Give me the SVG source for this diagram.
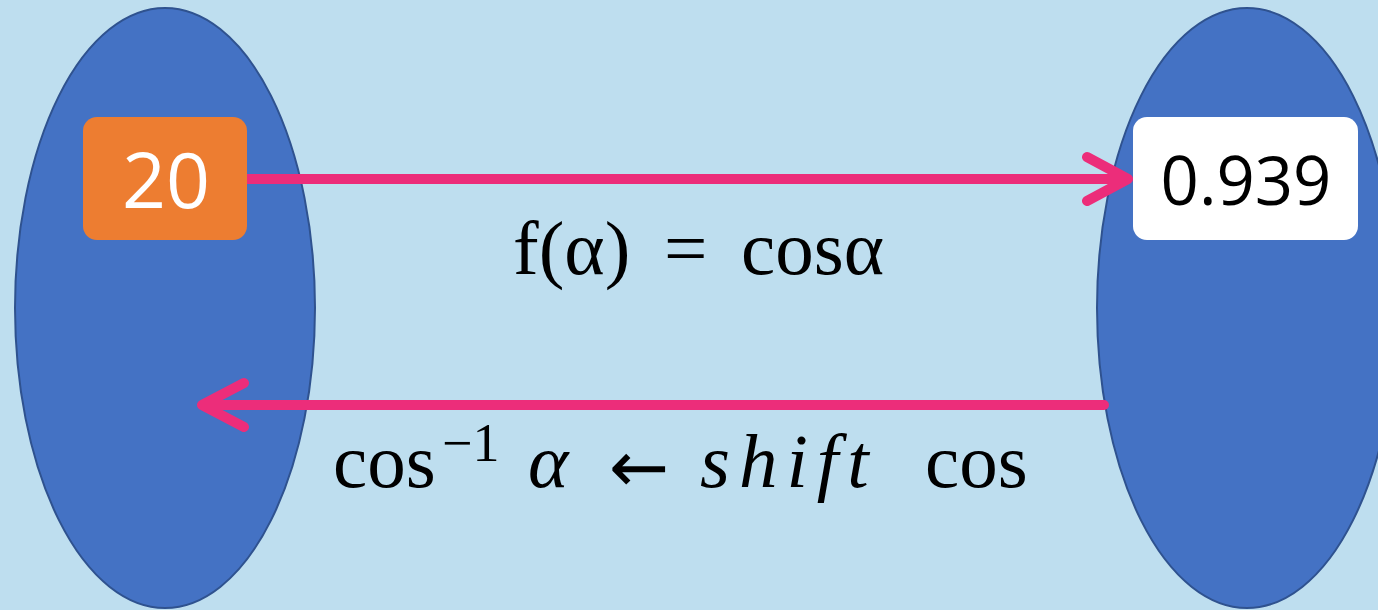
<svg xmlns="http://www.w3.org/2000/svg" width="1378" height="610" viewBox="0 0 1378 610">
<style>
.ell{fill:#4472C4;stroke:#2F528F;stroke-width:2}
.conn{fill:none;stroke:#EC2D7A;stroke-width:10;stroke-linecap:round;stroke-linejoin:round}
.lbl{font-family:"Open Sans","Noto Sans","Liberation Sans",sans-serif;text-anchor:middle}
.math{font-family:"Liberation Serif","DejaVu Serif",serif;font-size:77px;fill:#000}
.it{font-style:italic}
</style>
<rect x="0" y="0" width="1378" height="610" fill="#BEDEEF"/>
<g id="left-set"><ellipse class="ell" cx="165" cy="308" rx="150" ry="300"/></g>
<g id="right-set"><ellipse class="ell" cx="1247" cy="308" rx="150" ry="300"/></g>
<g id="connectors">
<path class="conn" d="M247 179 H1128 M1087 157 L1128 179 L1087 201"/>
<path class="conn" d="M1104 405 H202 M244 383 L202 405 L244 427"/>
</g>
<g id="node-20">
<rect x="83" y="117" width="164" height="123" rx="14" fill="#ED7D31"/>
<text class="lbl" x="166" y="208" font-size="77" fill="#FFFFFF">20</text>
</g>
<g id="node-0939">
<rect x="1133" y="117" width="225" height="123" rx="14" fill="#FFFFFF"/>
<text class="lbl" x="1246" y="205" font-size="67" fill="#000000">0.939</text>
</g>
<g id="labels">
<text class="math" y="274"><tspan x="513">f(α)</tspan><tspan x="664">=</tspan><tspan x="741">cosα</tspan></text>
<text class="math" y="487"><tspan x="333">cos</tspan><tspan x="442" y="461" font-size="54">−1</tspan><tspan x="528" y="487" class="it">α</tspan><tspan x="609" y="492" font-family="DejaVu Sans, sans-serif" font-size="72">←</tspan><tspan x="700" y="487" class="it" letter-spacing="9">shift</tspan><tspan x="925">cos</tspan></text>
</g>
</svg>
